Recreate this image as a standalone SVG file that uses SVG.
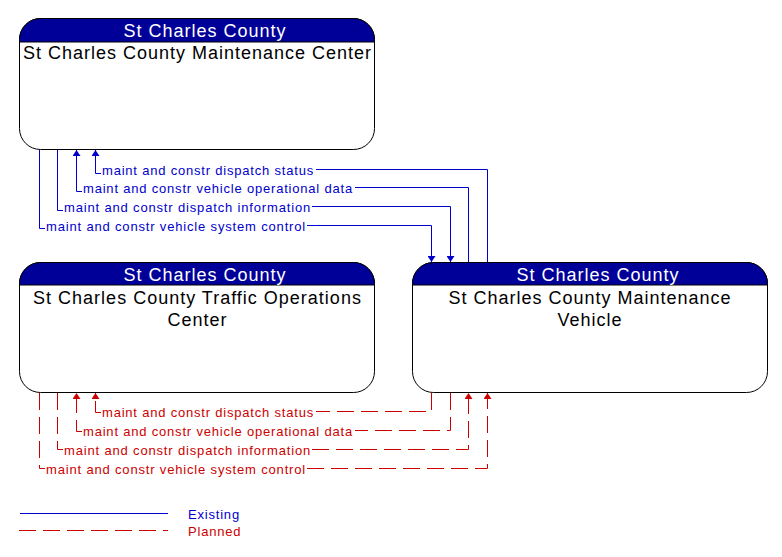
<svg xmlns="http://www.w3.org/2000/svg" width="782" height="557" viewBox="0 0 782 557">
<style>
.box{fill:#ffffff;stroke:#000000;stroke-width:1}
.hdr{fill:#000099;stroke:#000000;stroke-width:1}
.ht{font-family:"Liberation Sans",Arial,sans-serif;font-size:18px;fill:#ffffff;text-anchor:middle;letter-spacing:1px}
.bt{font-family:"Liberation Sans",Arial,sans-serif;font-size:18px;fill:#000000;text-anchor:middle;letter-spacing:1px}
.lb{font-family:"Liberation Sans",Arial,sans-serif;font-size:13px;letter-spacing:0.8px}
.blue{fill:#0000cc}
.red{fill:#cc0000}
.ex{fill:none;stroke:#0000cc;stroke-width:1}
.pl{fill:none;stroke:#cc0000;stroke-width:1;stroke-dasharray:17 7}
</style>
<defs>
<marker id="ab" markerUnits="userSpaceOnUse" markerWidth="8" markerHeight="8" viewBox="0 0 6 8" refX="6" refY="4" orient="auto"><path d="M0,0 L6,4 L0,8 Z" fill="#0000cc"/></marker>
<marker id="ar" markerUnits="userSpaceOnUse" markerWidth="8" markerHeight="8" viewBox="0 0 6 8" refX="6" refY="4" orient="auto"><path d="M0,0 L6,4 L0,8 Z" fill="#cc0000"/></marker>
</defs>

<g id="maint-center">
<rect class="box" x="19.5" y="18.5" width="355" height="131" rx="21" ry="21"/>
<path class="hdr" d="M19.5,42 V39.5 A21,21 0 0 1 40.5,18.5 H353.5 A21,21 0 0 1 374.5,39.5 V42 Z"/>
<text class="ht" x="205" y="37">St Charles County</text>
<text class="bt" x="197.5" y="59">St Charles County Maintenance Center</text>
</g>

<g id="traffic-ops">
<rect class="box" x="19.5" y="262.5" width="355" height="130" rx="21" ry="21"/>
<path class="hdr" d="M19.5,285 V283.5 A21,21 0 0 1 40.5,262.5 H353.5 A21,21 0 0 1 374.5,283.5 V285 Z"/>
<text class="ht" x="205" y="281">St Charles County</text>
<text class="bt" x="197.5" y="304">St Charles County Traffic Operations</text>
<text class="bt" x="197.5" y="326">Center</text>
</g>

<g id="maint-vehicle">
<rect class="box" x="412.5" y="262.5" width="355" height="130" rx="21" ry="21"/>
<path class="hdr" d="M412.5,285 V283.5 A21,21 0 0 1 433.5,262.5 H746.5 A21,21 0 0 1 767.5,283.5 V285 Z"/>
<text class="ht" x="598" y="281">St Charles County</text>
<text class="bt" x="590" y="304">St Charles County Maintenance</text>
<text class="bt" x="590" y="326">Vehicle</text>
</g>

<g id="connectors">
<path class="ex" d="M487.5,262 V169.5 H316 M101,173.5 H95.5 V150" marker-end="url(#ab)"/>
<text class="lb blue" x="102" y="175" textLength="212" lengthAdjust="spacing">maint and constr dispatch status</text>
<path class="ex" d="M468.5,262 V187.5 H355 M82,191.5 H76.5 V150" marker-end="url(#ab)"/>
<text class="lb blue" x="83" y="193" textLength="270" lengthAdjust="spacing">maint and constr vehicle operational data</text>
<path class="ex" d="M57.5,150 V210.5 H63 M312,206.5 H450.5 V262" marker-end="url(#ab)"/>
<text class="lb blue" x="64" y="212" textLength="247" lengthAdjust="spacing">maint and constr dispatch information</text>
<path class="ex" d="M39.5,150 V228.5 H45 M307,225.5 H431.5 V262" marker-end="url(#ab)"/>
<text class="lb blue" x="46" y="231" textLength="260" lengthAdjust="spacing">maint and constr vehicle system control</text>

<path class="pl" d="M431.5,393 V411.5 H316 M101,412.5 H95.5 V393" marker-end="url(#ar)"/>
<text class="lb red" x="102" y="417" textLength="212" lengthAdjust="spacing">maint and constr dispatch status</text>
<path class="pl" d="M450.5,393 V430.5 H355 M82,431.5 H76.5 V393" marker-end="url(#ar)"/>
<text class="lb red" x="83" y="436" textLength="270" lengthAdjust="spacing">maint and constr vehicle operational data</text>
<path class="pl" d="M57.5,393 V449.5 H63 M312,449.5 H468.5 V393" marker-end="url(#ar)"/>
<text class="lb red" x="64" y="455" textLength="247" lengthAdjust="spacing">maint and constr dispatch information</text>
<path class="pl" d="M39.5,393 V468.5 H45 M307,468.5 H487.5 V393" marker-end="url(#ar)"/>
<text class="lb red" x="46" y="474" textLength="260" lengthAdjust="spacing">maint and constr vehicle system control</text>
</g>

<g id="legend">
<line class="ex" x1="20" y1="513.5" x2="168" y2="513.5"/>
<text class="lb blue" x="188" y="519">Existing</text>
<line class="pl" x1="19" y1="530.5" x2="168" y2="530.5"/>
<text class="lb red" x="188" y="536">Planned</text>
</g>
</svg>
